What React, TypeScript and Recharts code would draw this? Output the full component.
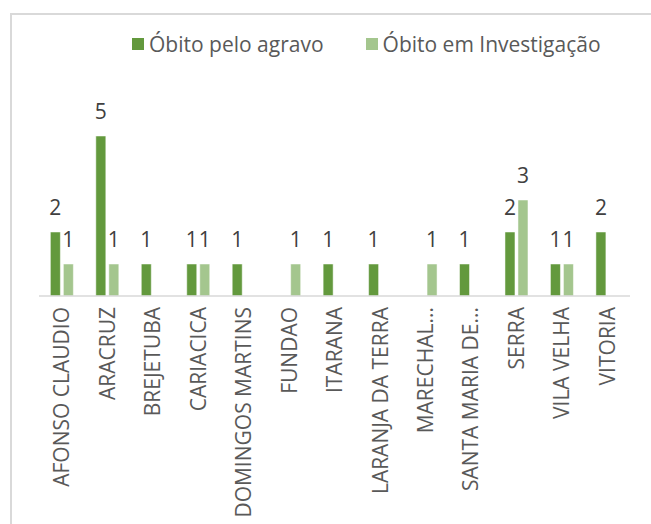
import { BarChart, Bar, XAxis, YAxis, LabelList } from 'recharts';

const municipios = [
  'AFONSO CLAUDIO',
  'ARACRUZ',
  'BREJETUBA',
  'CARIACICA',
  'DOMINGOS MARTINS',
  'FUNDAO',
  'ITARANA',
  'LARANJA DA TERRA',
  'MARECHAL...',
  'SANTA MARIA DE...',
  'SERRA',
  'VILA VELHA',
  'VITORIA',
];
const obitoAgravo = [2, 5, 1, 1, 1, null, 1, 1, null, 1, 2, 1, 2];
const obitoInvestigacao = [1, 1, null, 1, null, 1, null, null, 1, null, 3, 1, null];

const data = municipios.map((m, i) => ({
  name: m,
  agravo: obitoAgravo[i],
  investigacao: obitoInvestigacao[i],
}));

const FONT = '"Open Sans", sans-serif';
const DARK = '#63993d';
const LIGHT = '#a4c68e';

function CatTick(props: any) {
  const { x, y, payload } = props;
  return (
    <g transform={`translate(${x},${y + 3})`}>
      <text
        transform="rotate(-90)"
        textAnchor="end"
        dy="0.36em"
        fontSize={21}
        fontFamily={FONT}
        fill="#595959"
      >
        {payload.value}
      </text>
    </g>
  );
}

function LegendBox() {
  const items = [
    { label: 'Óbito pelo agravo', color: DARK },
    { label: 'Óbito em Investigação', color: LIGHT },
  ];
  return (
    <div
      style={{
        position: 'absolute',
        left: 132,
        top: 30,
        display: 'flex',
        fontFamily: FONT,
        fontSize: 21,
        color: '#595959',
        whiteSpace: 'nowrap',
      }}
    >
      {items.map((it, i) => (
        <div key={it.label} style={{ display: 'flex', alignItems: 'center', marginLeft: i ? 42 : 0 }}>
          <span style={{ width: 12, height: 12, background: it.color, marginRight: 5, display: 'inline-block' }} />
          <span>{it.label}</span>
        </div>
      ))}
    </div>
  );
}

export default function App() {
  return (
    <div style={{ position: 'absolute', left: 0, top: 0, width: 651, height: 524, background: '#fff', overflow: 'hidden' }}>
      <div
        style={{
          position: 'absolute',
          left: 10,
          top: 13,
          width: 660,
          height: 560,
          borderTop: '2px solid #d9d9d9',
          borderLeft: '2px solid #d9d9d9',
        }}
      />
      <BarChart
        width={651}
        height={524}
        data={data}
        margin={{ top: 104, right: 21, left: 39, bottom: 0 }}
        barCategoryGap="25%"
        barGap={3}
        style={{ position: 'absolute', left: 0, top: 0 }}
      >
        <YAxis hide domain={[0, 6]} />
        <XAxis
          dataKey="name"
          interval={0}
          height={228}
          tickLine={false}
          axisLine={{ stroke: '#d9d9d9', strokeWidth: 1.5 }}
          tick={<CatTick />}
        />
        <Bar dataKey="agravo" fill={DARK} stroke="#ffffff" strokeWidth={0.5} isAnimationActive={false}>
          <LabelList dataKey="agravo" position="top" offset={17} fontSize={21} fontFamily={FONT} fill="#404040" />
        </Bar>
        <Bar dataKey="investigacao" fill={LIGHT} stroke="#ffffff" strokeWidth={0.5} isAnimationActive={false}>
          <LabelList dataKey="investigacao" position="top" offset={17} fontSize={21} fontFamily={FONT} fill="#404040" />
        </Bar>
      </BarChart>
      <LegendBox />
    </div>
  );
}
